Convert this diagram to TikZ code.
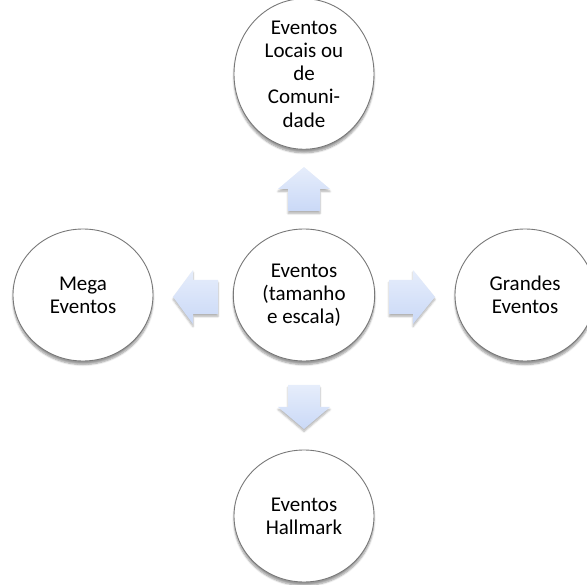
\documentclass[tikz,border=0pt]{standalone}
\usepackage{fontspec}
\setmainfont{Carlito}
\usetikzlibrary{shapes.geometric,shadows.blur}

\definecolor{ringgray}{RGB}{120,120,120}
\definecolor{arrowtop}{RGB}{230,237,251}
\definecolor{arrowbot}{RGB}{202,217,247}

\tikzset{
  bubble/.style={ellipse, draw=ringgray, line width=0.9pt, fill=white,
    minimum width=140pt, minimum height=132pt, inner sep=0pt,
    align=center, text=black,
    font=\fontsize{21}{23.2}\selectfont,
    blur shadow={shadow xshift=0pt, shadow yshift=-3.5pt,
      shadow blur steps=6, shadow opacity=40}},
  blockarrow/.style={top color=arrowtop, bottom color=arrowbot, draw=none,
    blur shadow={shadow xshift=0pt, shadow yshift=-2.5pt,
      shadow blur steps=5, shadow opacity=30}}
}

\begin{document}
\begin{tikzpicture}[x=1pt, y=-1pt]
  \useasboundingbox (0,0) rectangle (587,585);

  % circles
  \node[bubble] (centre) at (304,295) {\raisebox{-3pt}{\parbox{100pt}{\centering Eventos\\(tamanho\\e escala)}}};
  \node[bubble] (local)  at (304,74)  {Eventos\\Locais ou\\de\\Comuni-\\dade};
  \node[bubble] (hall)   at (304,516) {Eventos\\Hallmark};
  \node[bubble] (mega)   at (83,295)  {Mega\\Eventos};
  \node[bubble] (grand)  at (525,295) {Grandes\\Eventos};

  % block arrows pointing outwards from the centre
  \path[blockarrow] (304,167) -- (330,189) -- (320,189) -- (320,211)
    -- (288,211) -- (288,189) -- (278,189) -- cycle;
  \path[blockarrow] (288,385) -- (320,385) -- (320,407) -- (330,407)
    -- (304,429) -- (278,407) -- (288,407) -- cycle;
  \path[blockarrow] (173,297) -- (193,270) -- (193,280) -- (218,280)
    -- (218,314) -- (193,314) -- (193,324) -- cycle;
  \path[blockarrow] (435,297) -- (413,270) -- (413,280) -- (389,280)
    -- (389,314) -- (413,314) -- (413,324) -- cycle;
\end{tikzpicture}
\end{document}
